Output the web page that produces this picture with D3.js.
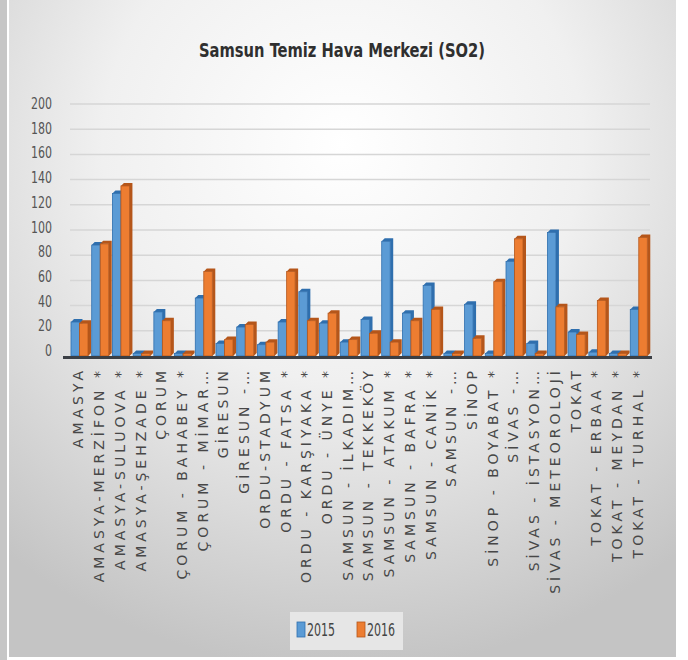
<!DOCTYPE html>
<html>
<head>
<meta charset="utf-8">
<script src="https://cdn.jsdelivr.net/npm/d3@7"></script>
<style>
  html, body { margin: 0; padding: 0; background: #fff; }
  svg { display: block; }
</style>
</head>
<body>
<svg id="chart" width="688" height="660"></svg>
<script>
'use strict';

// Station names as printed under the bars (Excel truncated some of them)
const categories = [
    'AMASYA', 'AMASYA-MERZİFON *', 'AMASYA-SULUOVA *', 'AMASYA-ŞEHZADE *',
    'ÇORUM', 'ÇORUM - BAHABEY *', 'ÇORUM - MİMAR…', 'GİRESUN', 'GİRESUN -…',
    'ORDU-STADYUM', 'ORDU - FATSA *', 'ORDU - KARŞIYAKA *', 'ORDU - ÜNYE *',
    'SAMSUN - İLKADIM…', 'SAMSUN - TEKKEKÖY', 'SAMSUN - ATAKUM *',
    'SAMSUN - BAFRA *', 'SAMSUN - CANİK *', 'SAMSUN -…', 'SİNOP',
    'SİNOP - BOYABAT *', 'SİVAS -…', 'SİVAS - İSTASYON…', 'SİVAS - METEOROLOJİ',
    'TOKAT', 'TOKAT - ERBAA *', 'TOKAT - MEYDAN *', 'TOKAT - TURHAL *'
];
const values2015 = [27, 88, 129, 2, 35, 2, 46, 10, 23, 9, 27, 51, 26, 11, 29, 91,
    34, 56, 2, 41, 2, 75, 10, 98, 19, 3, 2, 37];
const values2016 = [26, 89, 135, 2, 28, 2, 67, 13, 25, 11, 67, 28, 34, 13, 18, 11,
    28, 37, 2, 14, 59, 93, 2, 39, 17, 44, 2, 94];
const seriesNames = ['2015', '2016'];
const yTicks = [0, 20, 40, 60, 80, 100, 120, 140, 160, 180, 200];

const colors = {
    '2015': {front: '#5b9bd5', side: '#2f6fae'},
    '2016': {front: '#ed7d31', side: '#b5561a'}
};
const narrow = '"DejaVu Sans Condensed", "Liberation Sans", sans-serif';

const svg = d3.select('#chart');
const defs = svg.append('defs');

const grad = defs.append('radialGradient')
    .attr('id', 'bg')
    .attr('cx', '50%').attr('cy', '22%').attr('r', '80%');
grad.append('stop').attr('offset', '0%').attr('stop-color', '#ffffff');
grad.append('stop').attr('offset', '45%').attr('stop-color', '#f0f0f0');
grad.append('stop').attr('offset', '100%').attr('stop-color', '#c4c4c4');

// panel + left frame strip
svg.append('rect').attr('x', 0).attr('y', 0).attr('width', 7).attr('height', 660)
    .attr('fill', '#c6c6c6');
svg.append('rect').attr('x', 9).attr('y', 0).attr('width', 667).attr('height', 657)
    .attr('fill', 'url(#bg)');

const x = d3.scaleBand()
    .domain(categories)
    .range([68, 648]);

const xs = d3.scaleBand()
    .domain(seriesNames)
    .range([3, 20]);

const y = d3.scaleLinear()
    .domain([0, 200])
    .range([356, 104]);

// gridlines
svg.append('g')
    .selectAll('line')
    .data(yTicks.slice(1))
    .enter().append('line')
    .attr('x1', 70)
    .attr('x2', 650)
    .attr('y1', d => y(d))
    .attr('y2', d => y(d))
    .attr('stroke', '#d6d6d6')
    .attr('stroke-width', 1.5);

// y tick labels
svg.append('g')
    .selectAll('text')
    .data(yTicks)
    .enter().append('text')
    .attr('x', 52)
    .attr('y', d => y(d) - (200 - d) * 0.025 + 5)
    .attr('text-anchor', 'end')
    .attr('font-family', narrow)
    .attr('font-size', 15)
    .attr('fill', '#555')
    .attr('textLength', d => String(d).length * 7)
    .attr('lengthAdjust', 'spacingAndGlyphs')
    .text(d => d);

// bars drawn as small 3d boxes
const depth = 3;
const rows = [];
categories.forEach((c, i) => {
    rows.push({cat: c, series: '2015', value: values2015[i]});
    rows.push({cat: c, series: '2016', value: values2016[i]});
});

const bars = svg.append('g')
    .selectAll('g')
    .data(rows)
    .enter().append('g');

bars.append('path')
    .attr('d', d => {
        const x0 = x(d.cat) + xs(d.series);
        const x1 = x0 + xs.bandwidth();
        const yt = y(d.value);
        const yb = y(0);
        return `M${x0},${yt} L${x0 + depth},${yt - depth} L${x1 + depth},${yt - depth}`
            + ` L${x1 + depth},${yb - depth} L${x1},${yb} L${x1},${yt} Z`;
    })
    .attr('fill', d => colors[d.series].side);

bars.append('rect')
    .attr('x', d => x(d.cat) + xs(d.series))
    .attr('y', d => y(d.value))
    .attr('width', xs.bandwidth())
    .attr('height', d => y(0) - y(d.value))
    .attr('fill', d => colors[d.series].front)
    .attr('stroke', d => colors[d.series].side)
    .attr('stroke-width', 0.8);

// floor line
svg.append('line')
    .attr('x1', 63).attr('x2', 652)
    .attr('y1', 357.5).attr('y2', 357.5)
    .attr('stroke', '#3b3f45')
    .attr('stroke-width', 3);

// category labels, rotated
svg.append('g')
    .selectAll('text')
    .data(categories)
    .enter().append('text')
    .attr('transform', d => `translate(${x(d) + x.bandwidth() / 2 + 5},367) rotate(-90)`)
    .attr('text-anchor', 'end')
    .attr('font-family', '"DejaVu Sans", sans-serif')
    .attr('font-size', 14)
    .attr('letter-spacing', 4)
    .attr('fill', '#474747')
    .text(d => d);

// title
svg.append('text')
    .attr('x', 342)
    .attr('y', 57)
    .attr('text-anchor', 'middle')
    .attr('font-family', narrow)
    .attr('font-weight', 'bold')
    .attr('font-size', 20)
    .attr('fill', '#2f2f2f')
    .attr('textLength', 286)
    .attr('lengthAdjust', 'spacingAndGlyphs')
    .text('Samsun Temiz Hava Merkezi (SO2)');

// legend
const legend = svg.append('g');
legend.append('rect')
    .attr('x', 290).attr('y', 612).attr('width', 113).attr('height', 38)
    .attr('fill', '#e6e6e6');
const legendX = d3.scaleOrdinal().domain(seriesNames).range([297, 357]);
const items = legend.selectAll('g')
    .data(seriesNames)
    .enter().append('g')
    .attr('transform', d => `translate(${legendX(d)},622)`);
items.append('rect')
    .attr('width', 8).attr('height', 15)
    .attr('fill', d => colors[d].front)
    .attr('stroke', d => colors[d].side)
    .attr('stroke-width', 0.8);
items.append('text')
    .attr('x', 10).attr('y', 14)
    .attr('font-family', narrow)
    .attr('font-size', 17)
    .attr('fill', '#444')
    .attr('textLength', 28)
    .attr('lengthAdjust', 'spacingAndGlyphs')
    .text(d => d);
</script>
</body>
</html>
